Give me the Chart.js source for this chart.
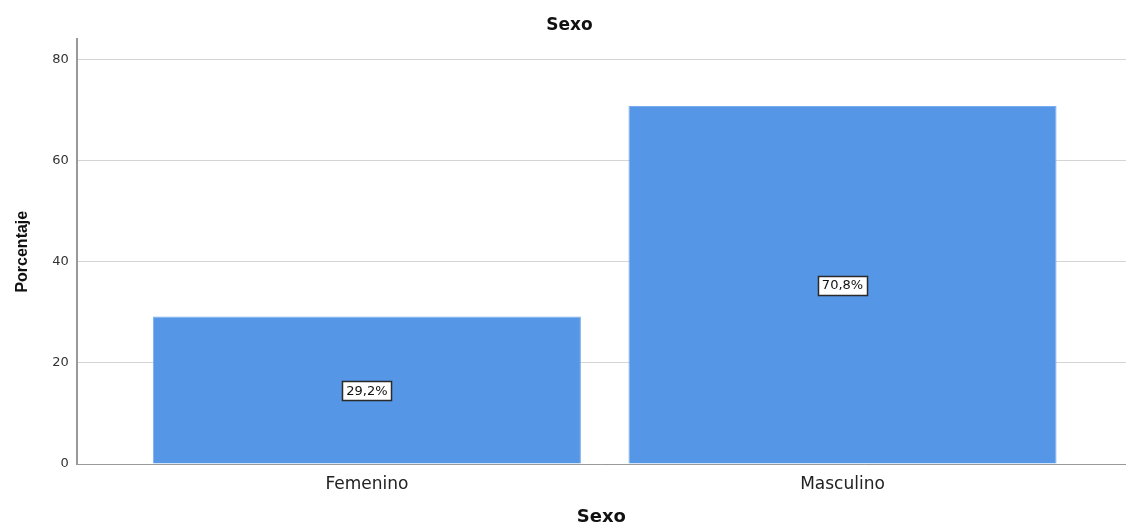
<!DOCTYPE html>
<html>
<head>
<meta charset="utf-8">
<script src="https://cdn.jsdelivr.net/npm/chart.js@4/dist/chart.umd.min.js"></script>
<style>
  html, body { margin: 0; padding: 0; background: #fff; }
  #wrap { width: 1126px; height: 523px; }
</style>
</head>
<body>
<div id="wrap"><canvas id="sexoChart"></canvas></div>
<script>
// Sexo - porcentaje por categoria
const categories = ['Femenino', 'Masculino'];
const percentages = [29.2, 70.8];
const pctLabels = ['29,2%', '70,8%'];
const yTicks = [0, 20, 40, 60, 80];

// bars sit at x = 1, 2 on a linear scale so the side margins can match the original
const points = percentages.map((v, i) => ({ x: i + 1, y: v }));

const boxLabels = {
  id: 'boxLabels',
  afterDatasetsDraw(chart) {
    const c = chart.ctx;
    const meta = chart.getDatasetMeta(0);
    c.save();
    c.font = '13px "DejaVu Sans", sans-serif';
    c.textAlign = 'center';
    c.textBaseline = 'middle';
    meta.data.forEach((bar, i) => {
      const yMid = chart.scales.y.getPixelForValue(percentages[i] / 2);
      const txt = pctLabels[i];
      const w = Math.round(c.measureText(txt).width + 8);
      const h = 19;
      const x0 = Math.round(bar.x - w / 2), y0 = Math.round(yMid - h / 2);
      c.fillStyle = '#fff';
      c.fillRect(x0, y0, w, h);
      c.strokeStyle = '#2a2a2a';
      c.lineWidth = 1.5;
      c.strokeRect(x0 + 0.5, y0 + 0.5, w, h);
      c.fillStyle = '#111';
      c.fillText(txt, bar.x, yMid + 1);
    });
    c.restore();
  }
};

const ctx = document.getElementById('sexoChart').getContext('2d');

const sexoChart = new Chart(ctx, {
  type: 'bar',
  data: {
    datasets: [{
      label: 'Porcentaje',
      data: points,
      backgroundColor: '#5596e6',
      borderColor: '#7aaef0',
      borderWidth: 1,
      barPercentage: 0.9,
      categoryPercentage: 1.0
    }]
  },
  plugins: [boxLabels],
  options: {
    responsive: true,
    maintainAspectRatio: false,
    animation: false,
    layout: { padding: { left: 13, right: 0, top: 10, bottom: 0 } },
    plugins: {
      legend: { display: false },
      tooltip: { enabled: false },
      title: {
        display: true,
        text: 'Sexo',
        color: '#111',
        font: { family: '"DejaVu Sans", sans-serif', size: 17, weight: 'bold' },
        padding: { top: 5, bottom: 4 }
      }
    },
    scales: {
      x: {
        type: 'linear',
        offset: false,
        min: 0.39,
        max: 2.596,
        grid: { display: false, offset: false },
        border: { color: '#999', width: 1 },
        afterBuildTicks(axis) {
          axis.ticks = categories.map((c, i) => ({ value: i + 1 }));
        },
        ticks: {
          color: '#222',
          font: { family: '"DejaVu Sans", sans-serif', size: 17 },
          padding: 2,
          callback: (v) => categories[v - 1] || ''
        },
        title: {
          display: true,
          text: 'Sexo',
          color: '#111',
          font: { family: '"DejaVu Sans", sans-serif', size: 18, weight: 'bold' },
          padding: { top: 10, bottom: -5 }
        }
      },
      y: {
        min: 0,
        max: 84,
        afterBuildTicks(axis) {
          axis.ticks = yTicks.map(v => ({ value: v }));
        },
        grid: { color: '#d4d4d4', drawTicks: false },
        border: { color: '#999', width: 2 },
        ticks: {
          color: '#333',
          font: { family: '"DejaVu Sans", sans-serif', size: 13 },
          padding: 8
        },
        title: {
          display: true,
          text: 'Porcentaje',
          color: '#111',
          font: { family: '"Liberation Sans", Arial, sans-serif', size: 16, weight: 'bold' },
          padding: { top: 0, bottom: 12 }
        }
      }
    }
  }
});
</script>
</body>
</html>
